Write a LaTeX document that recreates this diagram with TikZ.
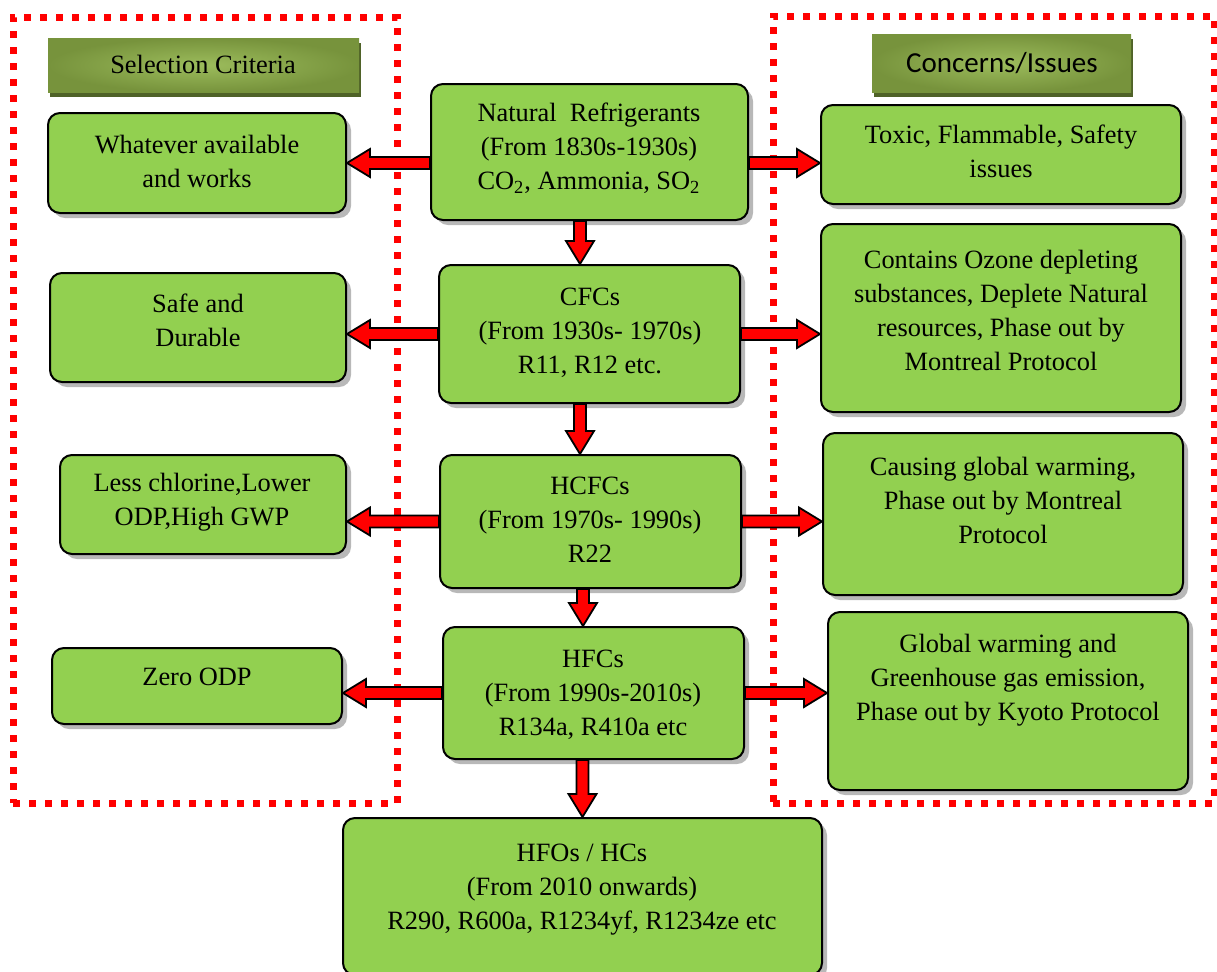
\documentclass[tikz,border=0pt]{standalone}
\usepackage{fontspec}
\setmainfont{Liberation Serif}
\newfontfamily\calibrifont{Carlito}
\usetikzlibrary{calc,fit,shadows}
\definecolor{boxgreen}{HTML}{92D050}
\definecolor{olivemid}{HTML}{77933C}
\definecolor{olivelight}{HTML}{9CBC5C}
\definecolor{olivedark}{HTML}{4F6228}
\begin{document}
\begin{tikzpicture}[x=0.5pt,y=-0.5pt,
  gbox/.style={draw=black, line width=1pt, fill=boxgreen, rounded corners=6pt, inner sep=0pt,
    drop shadow={shadow xshift=2.5pt, shadow yshift=-2.5pt, fill=black!28, opacity=1}},
  hdr/.style={inner sep=0pt, inner color=olivelight, outer color=olivemid,
    drop shadow={shadow xshift=1pt, shadow yshift=-2.5pt, fill=olivedark, opacity=1}},
  txt/.style={align=center, inner sep=0pt, font=\fontsize{13.2}{17}\selectfont},
  htxt/.style={align=center, inner sep=0pt, font=\fontsize{13.2}{16}\selectfont},
  ctxt/.style={align=center, inner sep=0pt, font=\calibrifont\fontsize{14.5}{16}\selectfont},
  frame/.style={draw=red, line width=3.5pt, dash pattern=on 3.5pt off 4.5pt, inner sep=0pt},
  blockarr/.style={draw=black, fill=red, line width=0.9pt, line join=miter,
    to path={let \p1=(\tikztostart), \p2=(\tikztotarget),
      \n1={atan2(\y2-\y1,\x2-\x1)}, \n2={veclen(\x2-\x1,\y2-\y1)} in
      [shift={(\p1)}, rotate=\n1]
      (0pt,-3pt) -- (\n2-11.5pt,-3pt) -- (\n2-11.5pt,-7pt) -- (\n2,0pt) --
      (\n2-11.5pt,7pt) -- (\n2-11.5pt,3pt) -- (0pt,3pt) -- cycle}}
]
\useasboundingbox (0,0) rectangle (1217,971);

% dotted frames
\node[frame, fit={(13,17)(397,803)}] (lf) {};
\node[frame, fit={(773,16)(1214,803)}] (rf) {};

% headers
\node[hdr, fit={(48,38)(359,92)}] (hsc) {};
\node[htxt] (hsct) at (203,64) {Selection Criteria};
\node[hdr, fit={(872,34)(1131,92)}] (hci) {};
\node[ctxt] (hcit) at (1002,63) {Concerns/Issues};

% centre column
\node[gbox, fit={(431,84)(748,220)}] (c1) {};
\node[txt] (c1t) at (589,148) {Natural\ \ Refrigerants\\(From 1830s-1930s)\\CO\textsubscript{2}, Ammonia, SO\textsubscript{2}};
\node[gbox, fit={(439,265)(740,403)}] (c2) {};
\node[txt] (c2t) at (590,333) {CFCs\\(From 1930s- 1970s)\\R11, R12 etc.};
\node[gbox, fit={(440,455)(741,588)}] (c3) {};
\node[txt] (c3t) at (590,520) {HCFCs\\(From 1970s- 1990s)\\R22};
\node[gbox, fit={(443,627)(744,759)}] (c4) {};
\node[txt] (c4t) at (593,695) {HFCs\\(From 1990s-2010s)\\R134a, R410a etc};
\node[gbox, fit={(343,818)(822,975)}] (b) {};
\node[txt] (bt) at (582,890) {HFOs / HCs\\(From 2010 onwards)\\R290, R600a, R1234yf, R1234ze etc};

% left column
\node[gbox, fit={(48,113)(346,213)}] (l1) {};
\node[txt] (l1t) at (197,161) {Whatever available\\and works};
\node[gbox, fit={(50,273)(346,382)}] (l2) {};
\node[txt] (l2t) at (198,320) {Safe and\\Durable};
\node[gbox, fit={(60,455)(346,554)}] (l3) {};
\node[txt] (l3t) at (202,502) {Less chlorine,Lower\\ODP,High GWP};
\node[gbox, fit={(52,648)(342,724)}] (l4) {};
\node[txt] (l4t) at (197,677) {Zero ODP};

% right column
\node[gbox, fit={(821,105)(1181,204)}] (r1) {};
\node[txt] (r1t) at (1001,151) {Toxic, Flammable, Safety\\issues};
\node[gbox, fit={(821,224)(1181,412)}] (r2) {};
\node[txt] (r2t) at (1001,310) {Contains Ozone depleting\\substances, Deplete Natural\\resources, Phase out by\\Montreal Protocol};
\node[gbox, fit={(823,433)(1183,595)}] (r3) {};
\node[txt] (r3t) at (1003,500) {Causing global warming,\\Phase out by Montreal\\Protocol};
\node[gbox, fit={(828,612)(1188,790)}] (r4) {};
\node[txt] (r4t) at (1008,680) {Global warming and\\Greenhouse gas emission,\\Phase out by Kyoto Protocol};

% arrows
\coordinate (ax1) at (580,0);
\coordinate (ax3) at (583,0);
\draw[blockarr] (c1.west |- l1.east) to (l1.east);
\draw[blockarr] (c1.east |- l1.east) to (r1.west |- l1.east);
\draw[blockarr] (c2.west) to (c2.west -| l2.east);
\draw[blockarr] (c2.east) to (c2.east -| r2.west);
\draw[blockarr] (c3.west) to (c3.west -| l3.east);
\draw[blockarr] (c3.east) to (c3.east -| r3.west);
\draw[blockarr] (c4.west) to (c4.west -| l4.east);
\draw[blockarr] (c4.east) to (c4.east -| r4.west);
\draw[blockarr] (c1.south -| ax1) to (c2.north -| ax1);
\draw[blockarr] (c2.south -| ax1) to (c3.north -| ax1);
\draw[blockarr] (c3.south -| ax3) to (c4.north -| ax3);
\draw[blockarr] (c4.south -| b.north) to (b.north);
\end{tikzpicture}
\end{document}
